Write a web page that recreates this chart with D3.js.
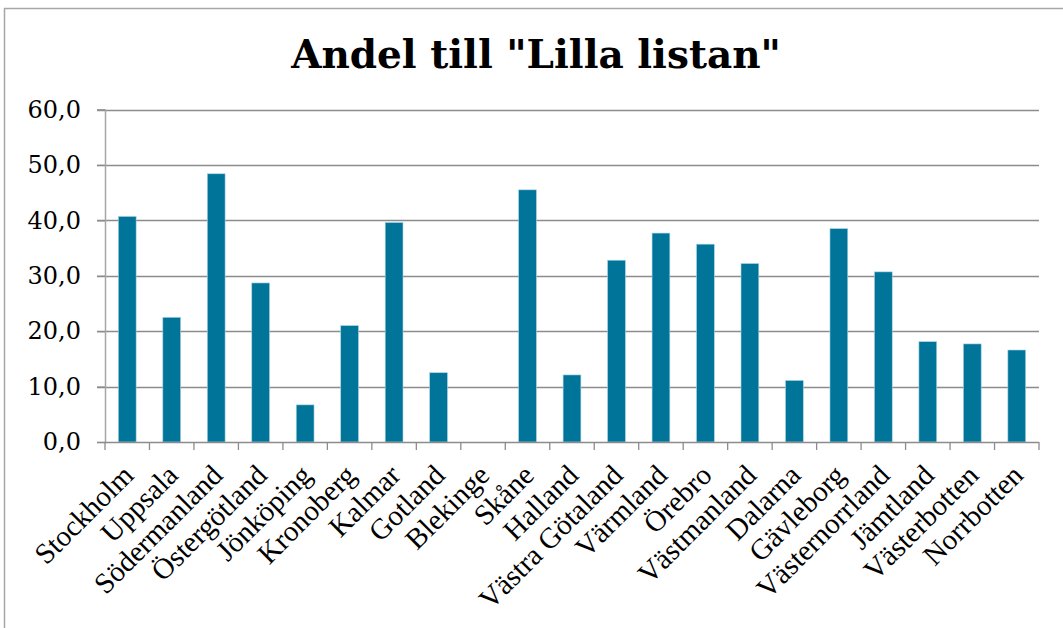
<!DOCTYPE html>
<html>
<head>
<meta charset="utf-8">
<script src="https://cdn.jsdelivr.net/npm/d3@7"></script>
<style>
  html, body { margin: 0; padding: 0; background: #fff; }
</style>
</head>
<body>
<script>
var width = 1063, height = 628;

// data
var regions = ["Stockholm", "Uppsala", "Södermanland", "Östergötland", "Jönköping", "Kronoberg",
  "Kalmar", "Gotland", "Blekinge", "Skåne", "Halland", "Västra Götaland", "Värmland", "Örebro",
  "Västmanland", "Dalarna", "Gävleborg", "Västernorrland", "Jämtland", "Västerbotten", "Norrbotten"];
var andel = [40.7, 22.5, 48.4, 28.7, 6.7, 21.0, 39.6, 12.5, 0, 45.5, 12.1, 32.8, 37.7, 35.7,
  32.2, 11.1, 38.5, 30.7, 18.1, 17.7, 16.6];
var yTicks = [0, 10, 20, 30, 40, 50, 60];
var chartTitle = 'Andel till "Lilla listan"';

var svg = d3.select("body").append("svg")
  .attr("width", width).attr("height", height);

// outer chart frame
svg.append("path").attr("d", "M4.5,628V8.5H1063")
  .attr("fill", "none").attr("stroke", "#a6a6a6").attr("stroke-width", 1.5);

var x = d3.scaleBand().domain(regions).range([105, 1039]).paddingInner(0.6).paddingOuter(0.3);
var y = d3.scaleLinear().domain([0, 60]).range([442, 109.5]);

// gridlines
svg.append("g").selectAll("line").data(yTicks.slice(1)).enter().append("line")
  .attr("x1", 97).attr("x2", 1039)
  .attr("y1", function (d) { return Math.round(y(d)) + 0.5; })
  .attr("y2", function (d) { return Math.round(y(d)) + 0.5; })
  .attr("stroke", "#8c8c8c").attr("stroke-width", 1.3);

// bars
svg.append("g").selectAll("rect").data(andel).enter().append("rect")
  .attr("x", function (d, i) { return x(regions[i]); })
  .attr("width", x.bandwidth())
  .attr("y", function (d) { return y(d); })
  .attr("height", function (d) { return y(0) - y(d); })
  .attr("fill", "#007599")
  .attr("stroke", "#a9d3e2").attr("stroke-width", 0.6)
  .style("display", function (d) { return d > 0 ? null : "none"; });

// y axis
var yAxis = svg.append("g").attr("transform", "translate(105,0)")
  .call(d3.axisLeft(y).tickValues(yTicks).tickSize(8).tickPadding(16)
    .tickFormat(function (d) { return d3.format(".1f")(d).replace(".", ","); }));
yAxis.select(".domain").attr("stroke", "#a6a6a6").attr("stroke-width", 1.5);
yAxis.selectAll(".tick line").attr("stroke", "#8c8c8c").attr("stroke-width", 1.3);
yAxis.selectAll("text").attr("fill", "#000")
  .style("font-family", "'DejaVu Serif', serif").style("font-size", "24px");

// x axis: ticks at category boundaries
var step = x.step();
var bounds = d3.range(regions.length + 1).map(function (i) { return 105 + i * step; });
var xAxis = svg.append("g");
xAxis.append("line").attr("x1", 105).attr("x2", 1039)
  .attr("y1", Math.round(y(0)) + 0.5).attr("y2", Math.round(y(0)) + 0.5)
  .attr("stroke", "#8c8c8c").attr("stroke-width", 1.5);
xAxis.selectAll("line.tk").data(bounds).enter().append("line").attr("class", "tk")
  .attr("x1", function (d) { return d; }).attr("x2", function (d) { return d; })
  .attr("y1", y(0)).attr("y2", y(0) + 8)
  .attr("stroke", "#8c8c8c").attr("stroke-width", 1.3);

xAxis.selectAll("text").data(regions).enter().append("text")
  .attr("transform", function (d) {
    return "translate(" + (x(d) + x.bandwidth() / 2 + 8) + "," + (y(0) + 35) + ") rotate(-45)";
  })
  .attr("text-anchor", "end")
  .style("font-family", "'Liberation Serif', 'Times New Roman', serif")
  .style("font-size", "29px")
  .text(function (d) { return d; });

// title
svg.append("text").attr("x", 536).attr("y", 68)
  .attr("text-anchor", "middle")
  .style("font-family", "'DejaVu Serif', Georgia, serif")
  .style("font-weight", "bold").style("font-size", "39px")
  .text(chartTitle);
</script>
</body>
</html>
